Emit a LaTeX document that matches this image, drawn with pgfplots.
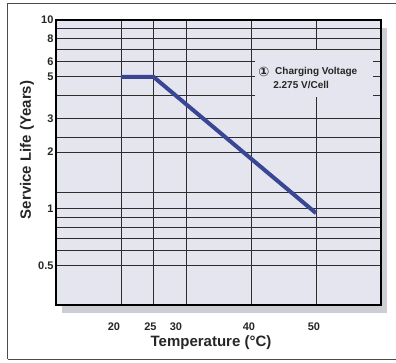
\documentclass[border=0pt]{standalone}
\usepackage{pgfplots}
\pgfplotsset{compat=1.18}
\usepackage{fontspec}
\setmainfont{Liberation Sans}
\newfontfamily\symfont{DejaVu Sans}
\definecolor{plotbg}{RGB}{228,229,238}
\definecolor{shadowc}{RGB}{205,205,212}
\definecolor{lineblue}{RGB}{56,70,148}
\definecolor{txt}{RGB}{38,38,38}
\definecolor{gridc}{RGB}{45,45,45}
\begin{document}
\begin{tikzpicture}
\useasboundingbox (-56pt,-57pt) rectangle (340pt,305pt);
\draw[gray!60!black, line width=1pt] (-48pt,-54pt) -- (-48pt,301pt) -- (340pt,301pt);
\draw[gray!60!black, line width=1pt] (-48pt,-54pt) -- (340pt,-54pt);
\fill[shadowc] (6pt,-8pt) rectangle (331pt,277pt);
\begin{axis}[
  at={(0pt,0pt)}, anchor=south west,
  scale only axis, width=325pt, height=285pt,
  xmin=10, xmax=60, ymode=log, ymin=0.31, ymax=10,
  axis background/.style={fill=plotbg},
  axis line style={black, line width=1.5pt},
  xtick={20,25,30,40,50},
  xticklabels={{\hspace*{-14pt}20},{\hspace*{-6pt}25},{\hspace*{-20pt}30},{\hspace*{-4pt}40},{\hspace*{-4pt}50}},
  ytick={0.5,1,2,3,5,6,8,10},
  yticklabels={0.5,1,2,3,5,6,8,10},
  minor ytick={0.6,0.7,0.8,0.9,1.22,2.4,4,7,9},
  major tick length=0pt, minor tick length=0pt,
  grid=both,
  x grid style={gridc, line width=0.9pt},
  y grid style={gridc, line width=1.1pt},
  /pgf/number format/assume math mode=true,
  tick label style={font=\bfseries\fontsize{11}{11}\selectfont, text=txt},
  xticklabel style={yshift=-14pt},
  yticklabel style={xshift=1pt},
  xlabel={Temperature (°C)},
  ylabel={Service Life (Years)},
  xlabel style={at={(axis description cs:0.477,-0.132)}, anchor=center, font=\bfseries\fontsize{15}{15}\selectfont, text=txt},
  ylabel style={at={(axis description cs:-0.089,0.544)}, anchor=center, font=\bfseries\fontsize{15}{15}\selectfont, text=txt},
]
\fill[plotbg] (rel axis cs:0.612,0.730) rectangle (rel axis cs:0.975,0.895);
\node[font=\symfont\bfseries\fontsize{13}{13}\selectfont, text=txt] at (rel axis cs:0.64,0.8175) {①};
\node[anchor=west, inner sep=0pt, font=\bfseries\fontsize{10}{10}\selectfont, text=txt] at (rel axis cs:0.674,0.8175) {Charging Voltage};
\node[anchor=west, inner sep=0pt, font=\bfseries\fontsize{10}{10}\selectfont, text=txt] at (rel axis cs:0.668,0.772) {2.275 V/Cell};
\addplot[lineblue, line width=4pt, line join=round] coordinates {(20,5) (25,5) (50,0.95)};
\end{axis}
\end{tikzpicture}
\end{document}
